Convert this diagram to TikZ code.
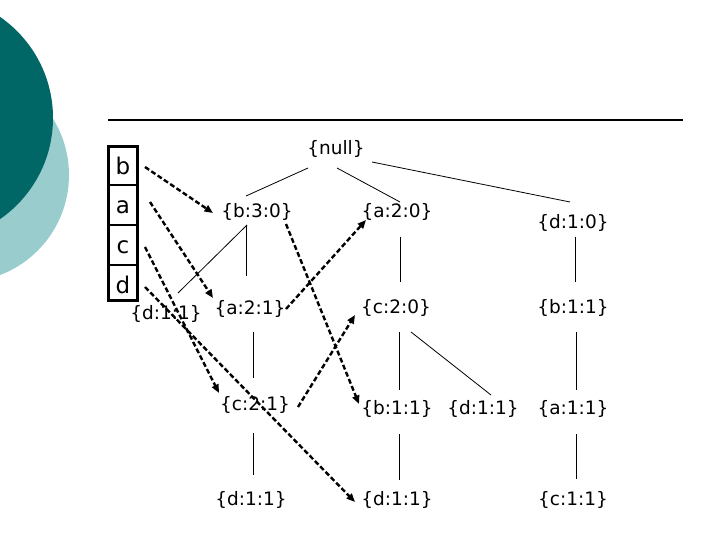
\documentclass[tikz,border=0pt]{standalone}
\usepackage{fontspec}
\setmainfont{DejaVu Sans}
\usetikzlibrary{arrows.meta}
\definecolor{tealdark}{RGB}{0,102,102}
\definecolor{teallight}{RGB}{153,204,204}
\tikzset{
  lbl/.style={inner sep=0pt, font=\fontsize{18.5bp}{20bp}\selectfont},
  letter/.style={inner sep=0pt, anchor=base, font=\fontsize{23bp}{25bp}\selectfont},
  tree/.style={line width=0.8bp},
  link/.style={line width=2.4bp, dash pattern=on 5bp off 2.6bp, -{Triangle[length=8.5bp,width=7bp]}},
}
\begin{document}
\begin{tikzpicture}[x=1bp,y=-1bp]
\useasboundingbox (0,0) rectangle (720,540);
% background circles
\fill[teallight] (-38,175) circle[radius=107];
\fill[tealdark] (-70,118) circle[radius=123];
% title rule
\draw[line width=2.4bp] (108,120) -- (683,120);
% item box
\draw[line width=3bp] (108.3,146.5) rectangle (137.7,300.5);
\foreach \yy in {185,225,265} \draw[line width=2bp] (108.3,\yy) -- (137.7,\yy);
\node[letter] (rb) at (123,174.5) {b};
\node[letter] (ra) at (123,213.5) {a};
\node[letter] (rc) at (123,253.5) {c};
\node[letter] (rd) at (123,293) {d};
% tree nodes
\node[lbl] (null) at (336,149) {\{null\}};
\node[lbl] (b30) at (257,212) {\{b:3:0\}};
\node[lbl] (a20) at (397,212) {\{a:2:0\}};
\node[lbl] (d10) at (573,223) {\{d:1:0\}};
\node[lbl] (d11a) at (166,314) {\{d:1:1\}};
\node[lbl] (a21) at (250,309) {\{a:2:1\}};
\node[lbl] (c20) at (396,308) {\{c:2:0\}};
\node[lbl] (b11a) at (573,308) {\{b:1:1\}};
\node[lbl] (c21) at (255,405) {\{c:2:1\}};
\node[lbl] (b11b) at (397,409) {\{b:1:1\}};
\node[lbl] (d11b) at (483,409) {\{d:1:1\}};
\node[lbl] (a11) at (573,409) {\{a:1:1\}};
\node[lbl] (d11c) at (251,500) {\{d:1:1\}};
\node[lbl] (d11d) at (397,500) {\{d:1:1\}};
\node[lbl] (c11) at (573,500) {\{c:1:1\}};
% tree edges
\draw[tree] ([shift={(-28,19)}]null.center) -- ([shift={(-11,-16)}]b30.center);
\draw[tree] ([shift={(1,19)}]null.center) -- ([shift={(3,-10)}]a20.center);
\draw[tree] ([shift={(36,13)}]null.center) -- ([shift={(-3,-21)}]d10.center);
\draw[tree] ([shift={(-10,13)}]b30.center) -- ([shift={(12,-21)}]d11a.center);
\draw[tree] ([shift={(-11,14)}]b30.center) -- ([shift={(-4,-33)}]a21.center);
\draw[tree] ([shift={(3,25)}]a20.center) -- ([shift={(4,-26)}]c20.center);
\draw[tree] ([shift={(2,14)}]d10.center) -- ([shift={(2,-26)}]b11a.center);
\draw[tree] ([shift={(3,23)}]a21.center) -- ([shift={(-2,-27)}]c21.center);
\draw[tree] ([shift={(3,24)}]c20.center) -- ([shift={(2,-19)}]b11b.center);
\draw[tree] ([shift={(15,24)}]c20.center) -- ([shift={(8,-14)}]d11b.center);
\draw[tree] ([shift={(3,24)}]b11a.center) -- ([shift={(3,-19)}]a11.center);
\draw[tree] ([shift={(-2,28)}]c21.center) -- ([shift={(2,-25)}]d11c.center);
\draw[tree] ([shift={(2,25)}]b11b.center) -- ([shift={(2,-20)}]d11d.center);
\draw[tree] ([shift={(3,25)}]a11.center) -- ([shift={(3,-21)}]c11.center);
% node links (dashed arrows)
\draw[link] ([shift={(22,-7.5)}]rb.base) -- ([shift={(-44,1)}]b30.center);
\draw[link] ([shift={(27,-11.5)}]ra.base) -- ([shift={(-37,-11)}]a21.center);
\draw[link] ([shift={(22,-6.5)}]rc.base) -- ([shift={(-36,-12)}]c21.center);
\draw[link] ([shift={(22,-6)}]rd.base) -- ([shift={(-42,2)}]d11d.center);
\draw[link] ([shift={(36,0)}]a21.center) -- ([shift={(-31,8)}]a20.center);
\draw[link] ([shift={(29,12)}]b30.center) -- ([shift={(-38,-5)}]b11b.center);
\draw[link] ([shift={(43,2)}]c21.center) -- ([shift={(-41,7)}]c20.center);
\end{tikzpicture}
\end{document}
